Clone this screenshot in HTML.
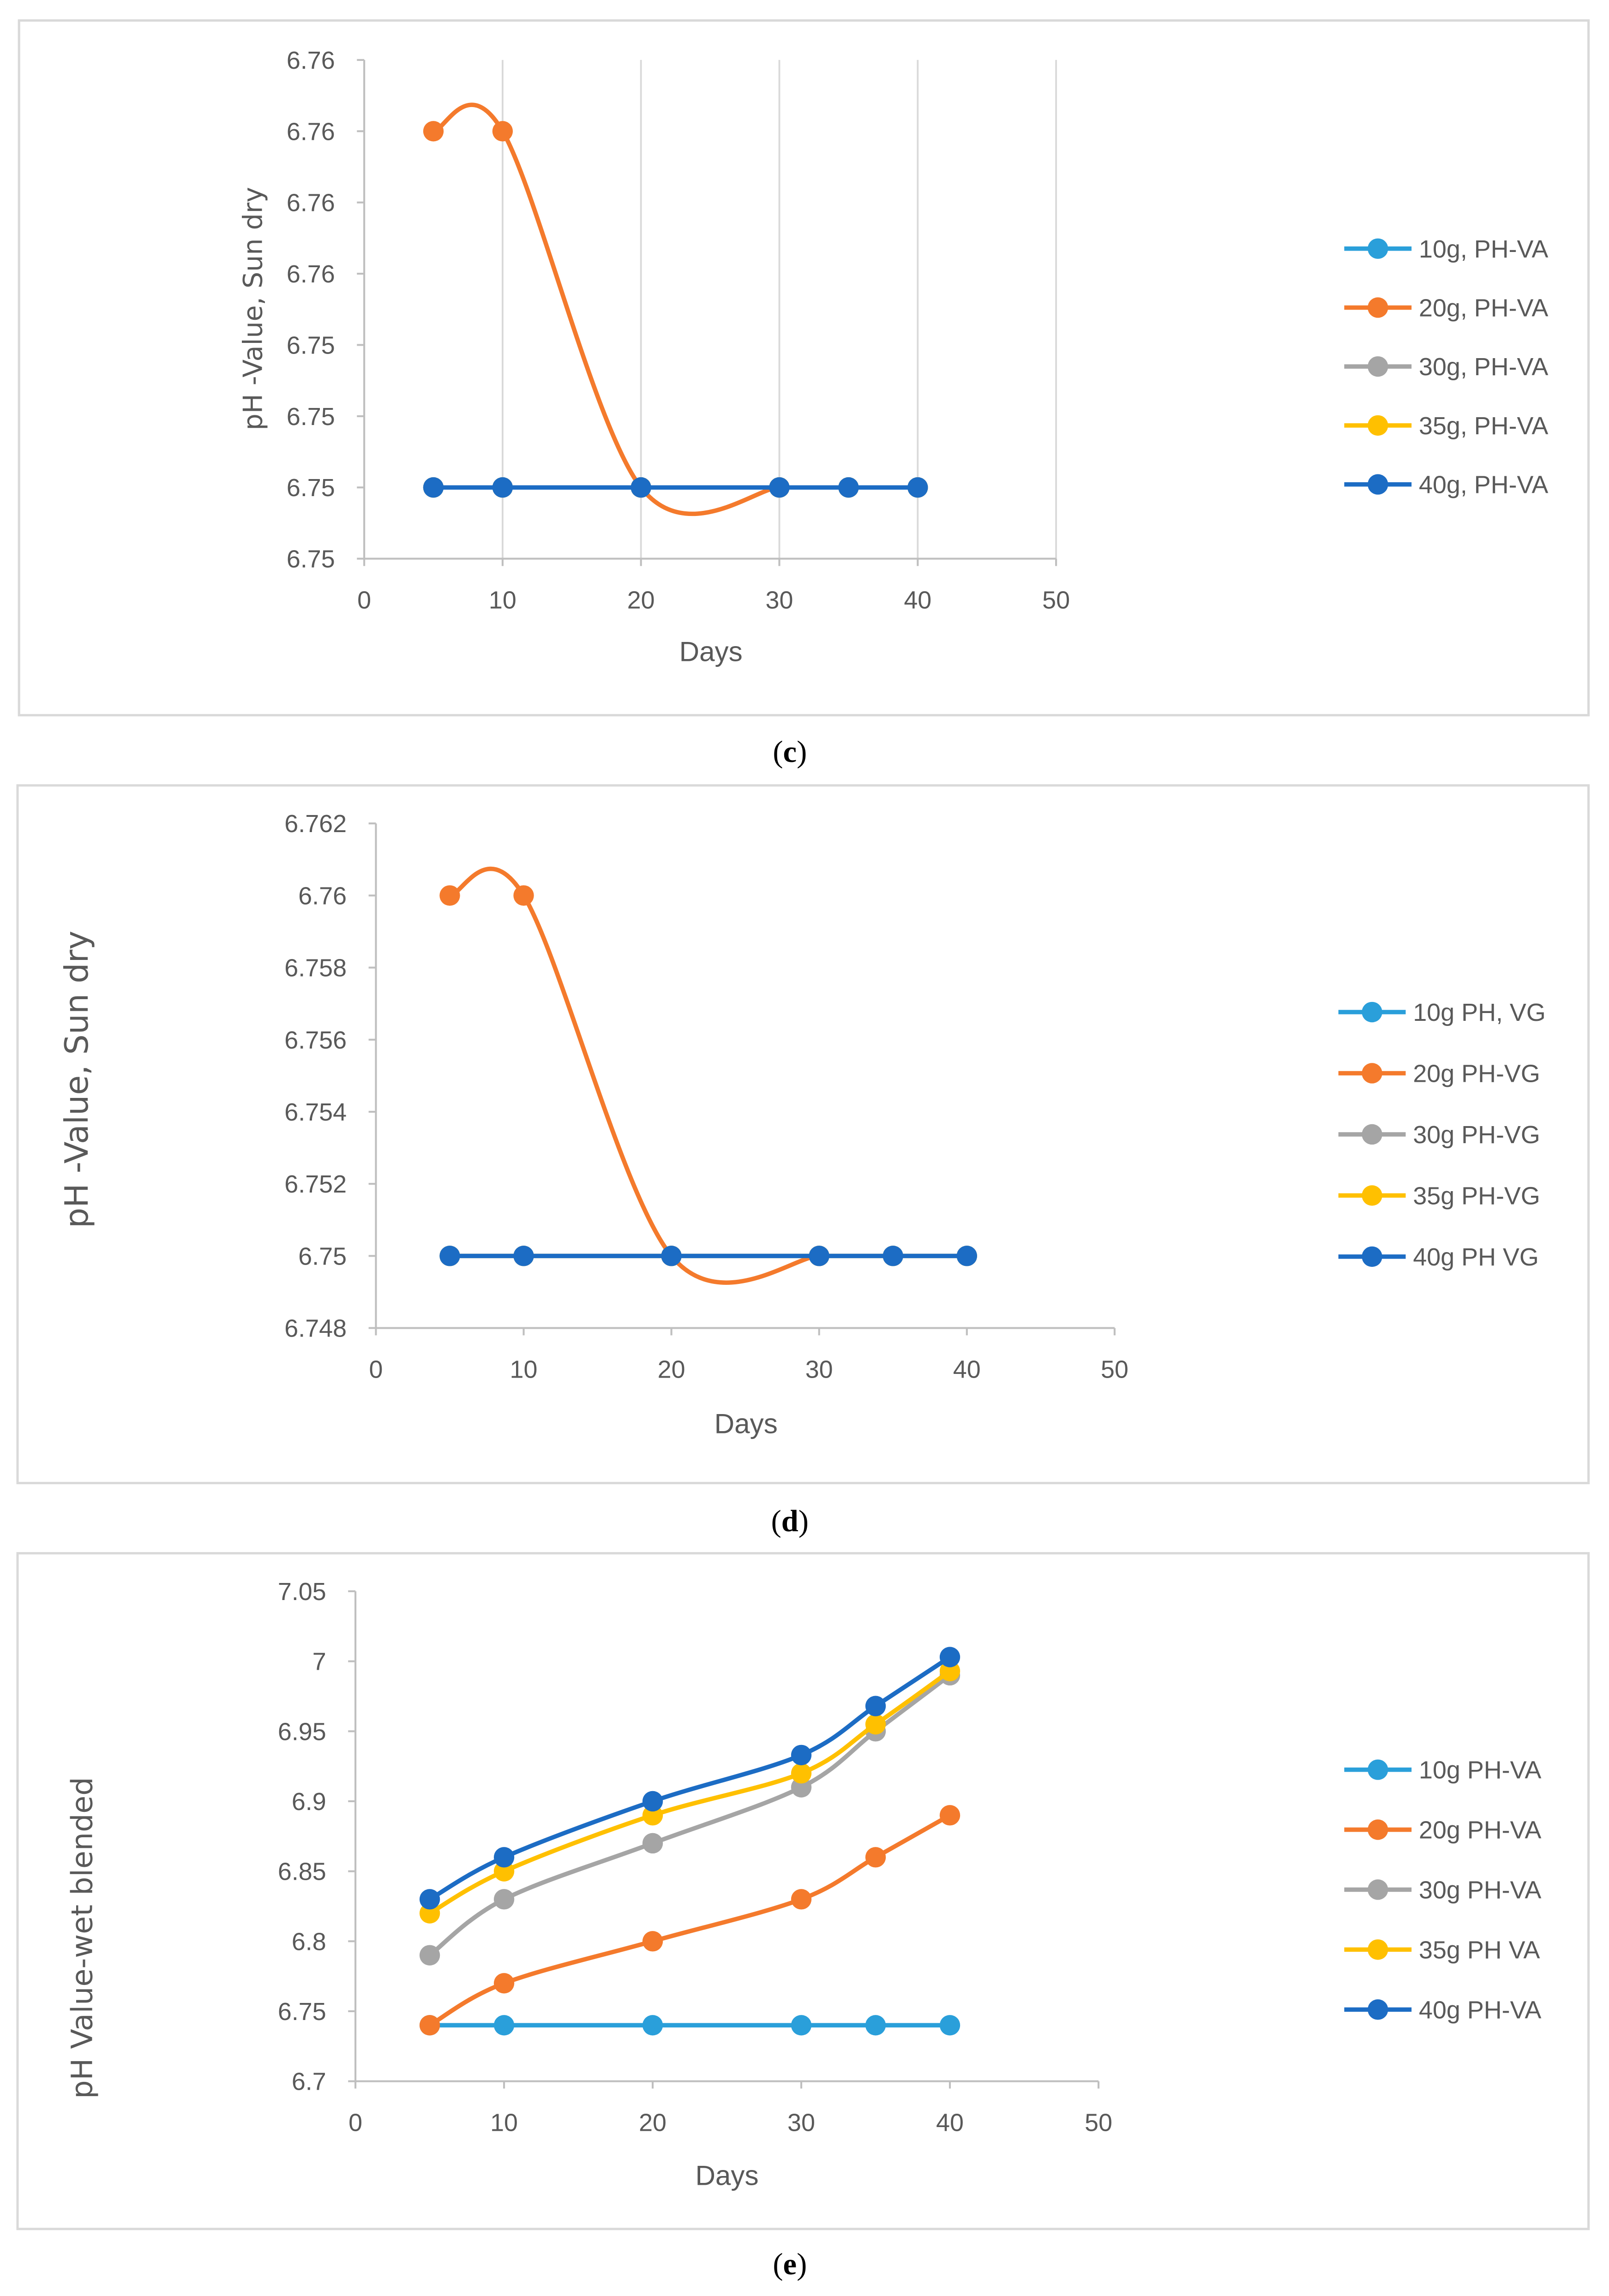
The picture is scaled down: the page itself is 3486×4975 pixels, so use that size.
<!DOCTYPE html>
<html><head><meta charset="utf-8"><style>
html,body{margin:0;padding:0;background:#fff;}
svg{display:block;}
</style></head><body>
<svg id="fig" xmlns="http://www.w3.org/2000/svg" width="3486" height="4975" viewBox="0 0 1100 1569.84" preserveAspectRatio="none"></svg>
<script>
// ---- Data ----
const daysC = [5, 10, 20, 30, 35, 40];
const c10 = [6.7505, 6.7505, 6.7505, 6.7505, 6.7505, 6.7505];
const c20 = [6.758, 6.758, 6.7505, 6.7505];
const c30 = [6.7505, 6.7505, 6.7505, 6.7505, 6.7505, 6.7505];
const c35 = [6.7505, 6.7505, 6.7505, 6.7505, 6.7505, 6.7505];
const c40 = [6.7505, 6.7505, 6.7505, 6.7505, 6.7505, 6.7505];
const cYTicks = ["6.75","6.75","6.75","6.75","6.76","6.76","6.76","6.76"];
const cLegend = ["10g, PH-VA","20g, PH-VA","30g, PH-VA","35g, PH-VA","40g, PH-VA"];

const daysD = [5, 10, 20, 30, 35, 40];
const d10 = [6.75, 6.75, 6.75, 6.75, 6.75, 6.75];
const d20 = [6.76, 6.76, 6.75, 6.75];
const d30 = [6.75, 6.75, 6.75, 6.75, 6.75, 6.75];
const d35 = [6.75, 6.75, 6.75, 6.75, 6.75, 6.75];
const d40 = [6.75, 6.75, 6.75, 6.75, 6.75, 6.75];
const dYTicks = ["6.748","6.75","6.752","6.754","6.756","6.758","6.76","6.762"];
const dLegend = ["10g PH, VG","20g PH-VG","30g PH-VG","35g PH-VG","40g PH VG"];

const daysE = [5, 10, 20, 30, 35, 40];
const e10 = [6.74, 6.74, 6.74, 6.74, 6.74, 6.74];
const e20 = [6.74, 6.77, 6.80, 6.83, 6.86, 6.89];
const e30 = [6.79, 6.83, 6.87, 6.91, 6.95, 6.99];
const e35 = [6.82, 6.85, 6.89, 6.92, 6.955, 6.993];
const e40 = [6.83, 6.86, 6.90, 6.933, 6.968, 7.003];
const eYTicks = ["6.7","6.75","6.8","6.85","6.9","6.95","7","7.05"];
const eLegend = ["10g PH-VA","20g PH-VA","30g PH-VA","35g PH VA","40g PH-VA"];

const xTicks = [0, 10, 20, 30, 40, 50];
const colors = ["#2A9FDA","#F47A2C","#A5A5A5","#FFC000","#1C6CC4"];

const NS = "http://www.w3.org/2000/svg";
const svg = document.getElementById('fig');
function mk(tag, attrs, parent){
  const e = document.createElementNS(NS, tag);
  for (const k in attrs) e.setAttribute(k, attrs[k]);
  (parent||svg).appendChild(e);
  return e;
}
function smoothPath(pts){
  let d = "M" + pts[0][0] + "," + pts[0][1];
  for (let i = 0; i < pts.length - 1; i++){
    const p0 = pts[i-1] || pts[i], p1 = pts[i], p2 = pts[i+1], p3 = pts[i+2] || pts[i+1];
    const c1x = p1[0] + (p2[0]-p0[0])/6, c1y = p1[1] + (p2[1]-p0[1])/6;
    const c2x = p2[0] - (p3[0]-p1[0])/6, c2y = p2[1] - (p3[1]-p1[1])/6;
    d += " C" + c1x + "," + c1y + " " + c2x + "," + c2y + " " + p2[0] + "," + p2[1];
  }
  return d;
}

function chart(cfg){
  const g = mk('g', {});
  
  
  const fr = mk('rect', {x:cfg.frame[0], y:cfg.frame[1], width:cfg.frame[2]-cfg.frame[0], height:cfg.frame[3]-cfg.frame[1], fill:'#fff', stroke:'#d9d9d9', 'stroke-width':1.6}, g);
  
  
  const X = v => cfg.x0 + (v - 0) / 50 * (cfg.x1 - cfg.x0);
  const Y = v => cfg.yb + (v - cfg.ymin) / (cfg.ymax - cfg.ymin) * (cfg.yt - cfg.yb);
  if (cfg.grid){
    xTicks.forEach(t => { if (t === 0) return;
      const l = mk('line', {x1:X(t), x2:X(t), y1:cfg.yt, y2:cfg.yb, stroke:'#d9d9d9', 'stroke-width':1.2}, g);
      
      
    });
  }
  const ya = mk('line', {x1:cfg.x0, x2:cfg.x0, y1:cfg.yt, y2:cfg.yb, stroke:'#bfbfbf', 'stroke-width':1.3}, g);
  
  
  const xa = mk('line', {x1:cfg.x0, x2:cfg.x1, y1:cfg.yb, y2:cfg.yb, stroke:'#bfbfbf', 'stroke-width':1.3}, g);
  
  
  cfg.yTicks.forEach((lab, i) => {
    const v = cfg.ymin + i * cfg.ystep;
    const y = Y(v);
    mk('line', {x1:cfg.x0-5, x2:cfg.x0, y1:y, y2:y, stroke:'#bfbfbf', 'stroke-width':1.3}, g);
    const t = mk('text', {x:cfg.x0-20, y:y+6, 'text-anchor':'end', 'font-size':17, fill:'#595959', 'font-family':'Liberation Sans, sans-serif'}, g);
    t.textContent = lab;
    
    
  });
  xTicks.forEach(v => {
    const x = X(v);
    mk('line', {x1:x, x2:x, y1:cfg.yb, y2:cfg.yb+5, stroke:'#bfbfbf', 'stroke-width':1.3}, g);
    const t = mk('text', {x:x, y:cfg.yb+34, 'text-anchor':'middle', 'font-size':17, fill:'#595959', 'font-family':'Liberation Sans, sans-serif'}, g);
    t.textContent = v;
    
    
  });
  const xt = mk('text', {x:cfg.daysX, y:cfg.daysY, 'text-anchor':'middle', 'font-size':19, fill:'#595959', 'font-family':'Liberation Sans, sans-serif'}, g);
  xt.textContent = 'Days';
  
  
  const yt = mk('text', {x:0, y:0, 'text-anchor':'middle', 'font-size':cfg.ytSize, fill:'#595959', 'font-family':'DejaVu Sans, sans-serif', transform:'translate(' + cfg.ytX + ',' + cfg.ytY + ') rotate(-90)'}, g);
  yt.textContent = cfg.yTitle;
  
  
  cfg.series.forEach((vals, si) => {
    const pts = vals.map((v, i) => [X(cfg.days[i]), Y(v)]);
    const sg = mk('g', {}, g);
    
    
    const p = mk('path', {d:smoothPath(pts), fill:'none', stroke:colors[si], 'stroke-width':3}, sg);
    
    
    pts.forEach(pt => {
      const c = mk('circle', {cx:pt[0], cy:pt[1], r:7, fill:colors[si]}, sg);
      
      
    });
  });
  cfg.legend.forEach((lab, i) => {
    const y = cfg.legY + i * cfg.legStep;
    const lg = mk('g', {}, g);
    
    
    mk('line', {x1:cfg.legX, x2:cfg.legX+46, y1:y, y2:y, stroke:colors[i], 'stroke-width':3}, lg);
    mk('circle', {cx:cfg.legX+23, cy:y, r:7, fill:colors[i]}, lg);
    const t = mk('text', {x:cfg.legX+51, y:y+6, 'font-size':17, fill:'#595959', 'font-family':'Liberation Sans, sans-serif'}, lg);
    t.textContent = lab;
  });
  const cap = mk('text', {x:540, y:cfg.capY, 'text-anchor':'middle', 'font-size':21, fill:'#000', 'font-family':'Liberation Serif, serif'}, g);
  cap.innerHTML = '(<tspan font-weight="bold">' + cfg.cap + '</tspan>)';
  
  
}

chart({name:'chart-c', frame:[13,14,1086,489], x0:249, x1:722, yt:41, yb:382, ymin:6.749, ymax:6.7595, ystep:0.0015,
  yTicks:cYTicks, days:daysC, series:[c10,c20,c30,c35,c40], legend:cLegend, grid:true,
  daysX:486, daysY:452, ytX:179, ytY:211, ytSize:18, yTitle:'pH -Value, Sun dry',
  legX:919, legY:170, legStep:40.3, capY:521, cap:'c'});
chart({name:'chart-d', frame:[12,537,1086,1014], x0:257, x1:762, yt:563, yb:908, ymin:6.748, ymax:6.762, ystep:0.002,
  yTicks:dYTicks, days:daysD, series:[d10,d20,d30,d35,d40], legend:dLegend, grid:false,
  daysX:510, daysY:980, ytX:60, ytY:738, ytSize:22, yTitle:'pH -Value, Sun dry',
  legX:915, legY:692, legStep:41.8, capY:1047, cap:'d'});
chart({name:'chart-e', frame:[12,1062,1086,1524], x0:243, x1:751, yt:1088, yb:1423, ymin:6.7, ymax:7.05, ystep:0.05,
  yTicks:eYTicks, days:daysE, series:[e10,e20,e30,e35,e40], legend:eLegend, grid:false,
  daysX:497, daysY:1494, ytX:63, ytY:1325, ytSize:20, yTitle:'pH Value-wet blended',
  legX:919, legY:1210, legStep:41, capY:1555, cap:'e'});
</script>
</body></html>
